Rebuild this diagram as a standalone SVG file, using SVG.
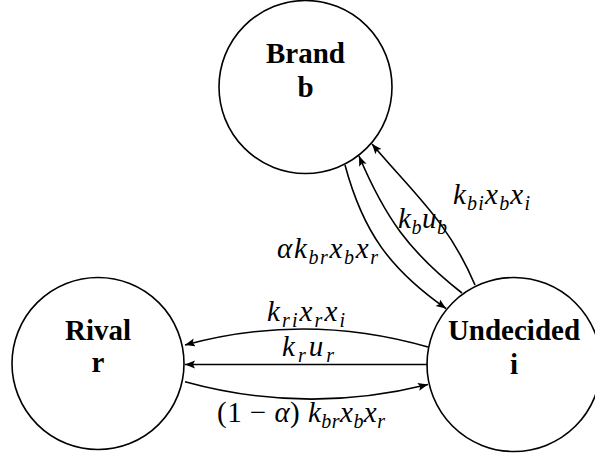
<svg xmlns="http://www.w3.org/2000/svg" width="595" height="457" viewBox="0 0 595 457">
<defs>
<marker id="arr" markerUnits="userSpaceOnUse" markerWidth="12" markerHeight="10" refX="10" refY="4" orient="auto">
<path d="M0,0 L10,4 L0,8 L2,4 Z" fill="#000"/>
</marker>
</defs>
<rect width="595" height="457" fill="#fff"/>
<g fill="#fff" stroke="#000" stroke-width="1.6">
<g id="node-brand">
<circle cx="305.5" cy="87" r="86.5"/>
<text x="305.5" y="62.5" font-family="Liberation Serif, serif" font-size="29" font-weight="bold" text-anchor="middle" fill="#000" stroke="none">Brand</text>
<text x="305.5" y="97" font-family="Liberation Serif, serif" font-size="29" font-weight="bold" text-anchor="middle" fill="#000" stroke="none">b</text>
</g>
<g id="node-rival">
<circle cx="98" cy="363.5" r="86"/>
<text x="98" y="339.5" font-family="Liberation Serif, serif" font-size="29" font-weight="bold" text-anchor="middle" fill="#000" stroke="none">Rival</text>
<text x="98" y="372" font-family="Liberation Serif, serif" font-size="29" font-weight="bold" text-anchor="middle" fill="#000" stroke="none">r</text>
</g>
<g id="node-undecided">
<circle cx="514" cy="364.5" r="87"/>
<text x="514" y="339.5" font-family="Liberation Serif, serif" font-size="29" font-weight="bold" text-anchor="middle" fill="#000" stroke="none">Undecided</text>
<text x="514" y="373.5" font-family="Liberation Serif, serif" font-size="29" font-weight="bold" text-anchor="middle" fill="#000" stroke="none">i</text>
</g>
</g>
<g id="connectors">
<g fill="none" stroke="#000" stroke-width="1.6" marker-end="url(#arr)">
<path d="M345,165 C362.8,231.4 389.7,269.1 446,308.5"/>
<path d="M462,293 C409.2,251.8 385.2,217.7 359,156"/>
<path d="M475,285 C448.5,222.4 415.9,196 372,144"/>
<path d="M428,347 Q306,312 185,345"/>
<path d="M427.5,364.5 L185,364.5"/>
<path d="M185,381.7 Q306,415 428,384.5"/>
</g>
<g fill="#000">
<text x="453" y="204" font-family="Liberation Serif, serif" font-size="29" font-style="italic" textLength="77" lengthAdjust="spacing">k<tspan font-size="20" dy="6">bi</tspan><tspan dy="-6">x</tspan><tspan font-size="20" dy="6">b</tspan><tspan dy="-6">x</tspan><tspan font-size="20" dy="6">i</tspan></text>
<text x="398" y="227.5" font-family="Liberation Serif, serif" font-size="29" font-style="italic" textLength="49" lengthAdjust="spacing">k<tspan font-size="20" dy="6">b</tspan><tspan dy="-6">u</tspan><tspan font-size="20" dy="6">b</tspan></text>
<text x="277" y="258" font-family="Liberation Serif, serif" font-size="29" font-style="italic" textLength="101" lengthAdjust="spacing">&#945;k<tspan font-size="20" dy="6">br</tspan><tspan dy="-6">x</tspan><tspan font-size="20" dy="6">b</tspan><tspan dy="-6">x</tspan><tspan font-size="20" dy="6">r</tspan></text>
<text x="267" y="321" font-family="Liberation Serif, serif" font-size="29" font-style="italic" textLength="78" lengthAdjust="spacing">k<tspan font-size="20" dy="6">ri</tspan><tspan dy="-6">x</tspan><tspan font-size="20" dy="6">r</tspan><tspan dy="-6">x</tspan><tspan font-size="20" dy="6">i</tspan></text>
<text x="282" y="356" font-family="Liberation Serif, serif" font-size="29" font-style="italic" textLength="52" lengthAdjust="spacing">k<tspan font-size="20" dy="6">r</tspan><tspan dy="-6">u</tspan><tspan font-size="20" dy="6">r</tspan></text>
<text x="217" y="422" font-family="Liberation Serif, serif" font-size="29" font-style="italic" textLength="168" lengthAdjust="spacing"><tspan font-style="normal">(1 &#8722; </tspan>&#945;<tspan font-style="normal">) </tspan>k<tspan font-size="20" dy="6">br</tspan><tspan dy="-6">x</tspan><tspan font-size="20" dy="6">b</tspan><tspan dy="-6">x</tspan><tspan font-size="20" dy="6">r</tspan></text>
</g>
</g>
</svg>
